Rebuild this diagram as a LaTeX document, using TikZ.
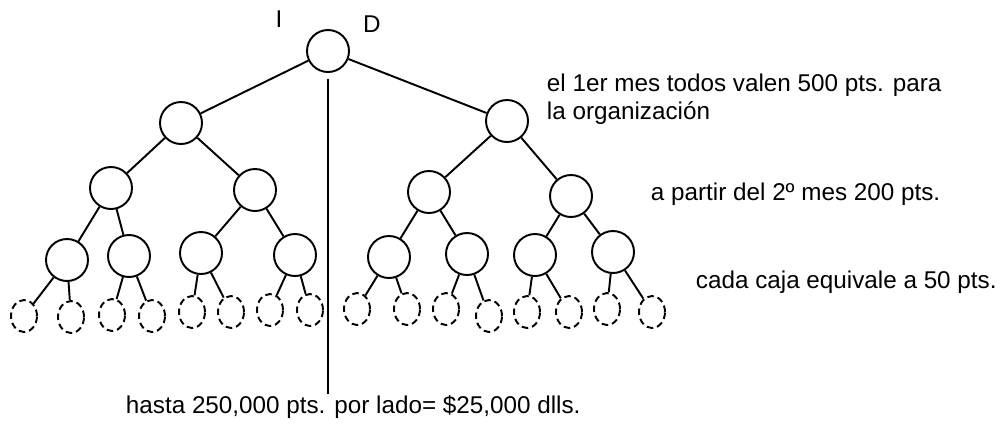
\documentclass[tikz,border=0pt]{standalone}
\usepackage{fontspec}
\setmainfont{Liberation Sans}
\usetikzlibrary{shapes.geometric}

\begin{document}
\begin{tikzpicture}[x=0.2mm, y=-0.2mm, line width=1.1pt,
    caja/.style={circle, draw, minimum size=8.4mm, inner sep=0pt},
    hoja/.style={ellipse, draw, dash pattern=on 1.3mm off 0.8mm,
                 minimum width=5.2mm, minimum height=6.4mm, inner sep=0pt},
    nota/.style={inner sep=0pt, font=\fontsize{13.8}{15.4}\selectfont}]
          \useasboundingbox (0,0) rectangle (1000,423);

          \node[caja](R)   at (328, 51) { };
          \node[caja](A)   at (181,123) { };
          \node[caja](B)   at (507,121) { };
          \node[caja](A1)  at (111,188) { };
          \node[caja](A2)  at (255,190) { };
          \node[caja](B1)  at (429,192) { };
          \node[caja](B2)  at (571,196) { };
          \node[caja](A11) at ( 67,260) { };
          \node[caja](A12) at (129,256) { };
          \node[caja](A21) at (201,253) { };
          \node[caja](A22) at (295,255) { };
          \node[caja](B11) at (389,257) { };
          \node[caja](B12) at (467,254) { };
          \node[caja](B21) at (535,255) { };
          \node[caja](B22) at (613,252) { };

          \draw (A) -- (R) -- (B);
          \draw (A1) -- (A) -- (A2) (B1) -- (B) -- (B2);
          \draw (A11) -- (A1) -- (A12) (A21) -- (A2) -- (A22);
          \draw (B11) -- (B1) -- (B12) (B21) -- (B2) -- (B22);

          \node[hoja](H1)  at ( 24,316) { };
          \node[hoja](H2)  at ( 71,317) { };
          \node[hoja](H3)  at (112,315) { };
          \node[hoja](H4)  at (152,316) { };
          \node[hoja](H5)  at (192,312) { };
          \node[hoja](H6)  at (231,312) { };
          \node[hoja](H7)  at (270,310) { };
          \node[hoja](H8)  at (310,310) { };
          \node[hoja](H9)  at (357,309) { };
          \node[hoja](H10) at (407,309) { };
          \node[hoja](H11) at (446,309) { };
          \node[hoja](H12) at (489,316) { };
          \node[hoja](H13) at (527,312) { };
          \node[hoja](H14) at (569,312) { };
          \node[hoja](H15) at (607,309) { };
          \node[hoja](H16) at (652,312) { };

          \draw (H1) -- (A11) -- (H2) (H3) -- (A12) -- (H4);
          \draw (H5) -- (A21) -- (H6) (H7) -- (A22) -- (H8);
          \draw (H9) -- (B11) -- (H10) (H11) -- (B12) -- (H12);
          \draw (H13) -- (B21) -- (H14) (H15) -- (B22) -- (H16);

          \node[nota, anchor=base](I) at (279,27) {I};
          \node[nota, anchor=base](D) at (372,32) {D};
          \node[nota, anchor=base west, align=left](T1) at (546,119)
            {el 1er mes todos valen 500 pts. para\\la organización};
          \node[nota, anchor=base west](T2) at (650,200) {a partir del 2º mes 200 pts.};
          \node[nota, anchor=base west](T3) at (695,288) {cada caja equivale a 50 pts.};
          \node[nota, anchor=base west](T4) at (125,413) {hasta 250,000 pts. por lado= \$25,000 dlls.};

          \draw[shorten <=1.2mm] (R) -- (R |- T4.north);
        \end{tikzpicture}
\end{document}
